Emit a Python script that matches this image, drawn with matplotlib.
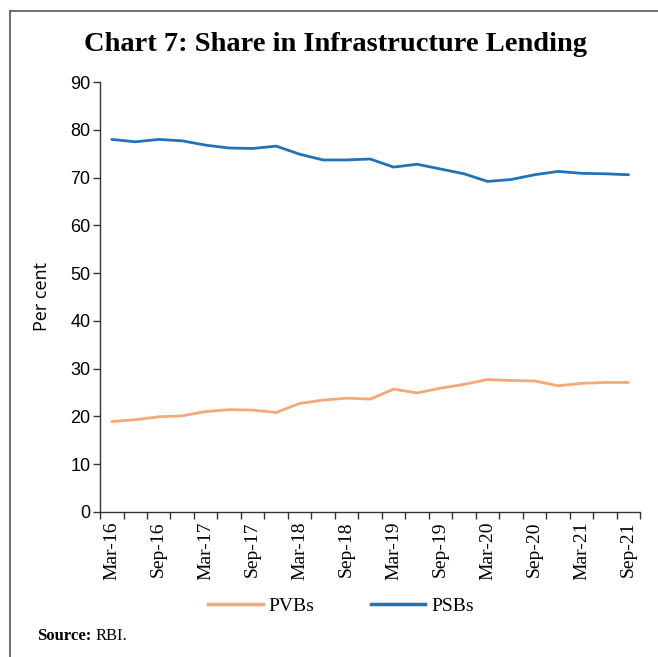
import numpy as np
import matplotlib
matplotlib.use('Agg')
import matplotlib.pyplot as plt
from matplotlib.lines import Line2D

# quarterly observations, Mar-16 .. Sep-21
quarters = ['Mar-16', 'Jun-16', 'Sep-16', 'Dec-16', 'Mar-17', 'Jun-17', 'Sep-17', 'Dec-17',
            'Mar-18', 'Jun-18', 'Sep-18', 'Dec-18', 'Mar-19', 'Jun-19', 'Sep-19', 'Dec-19',
            'Mar-20', 'Jun-20', 'Sep-20', 'Dec-20', 'Mar-21', 'Jun-21', 'Sep-21']
pvbs = [18.9, 19.3, 19.9, 20.1, 21.0, 21.4, 21.3, 20.8, 22.7, 23.4, 23.8, 23.6,
        25.7, 24.9, 25.9, 26.7, 27.7, 27.5, 27.4, 26.4, 26.9, 27.1, 27.1]
psbs = [78.0, 77.5, 78.0, 77.7, 76.8, 76.2, 76.1, 76.6, 74.9, 73.7, 73.7, 73.9,
        72.2, 72.8, 71.8, 70.8, 69.2, 69.6, 70.6, 71.3, 70.9, 70.8, 70.6]
yticks = list(range(0, 91, 10))

C_PVB = '#F5A878'
C_PSB = '#2272B8'

fig = plt.figure(figsize=(6.58, 6.57), dpi=100)
ax = fig.add_axes([0.152, 0.221, 0.821, 0.654])

x = np.arange(len(quarters))
ax.plot(x, pvbs, color=C_PVB, lw=2.0, solid_capstyle='round')
ax.plot(x, psbs, color=C_PSB, lw=2.0, solid_capstyle='round')

ax.set_xlim(-0.5, len(quarters) - 0.5)
ax.set_ylim(0, 90)
ax.set_yticks(yticks)
ax.set_yticklabels([str(v) for v in yticks], family='Liberation Sans', fontsize=13)
ax.tick_params(axis='y', length=5, width=1, pad=2, color='#333333')

# category axis: tick marks between categories, labels every second quarter
ax.set_xticks(x[::2])
ax.set_xticklabels(quarters[::2], rotation=90, family='Liberation Serif', fontsize=14)
ax.tick_params(axis='x', which='major', length=0, pad=7)
ax.set_xticks(np.arange(-0.5, len(quarters)), minor=True)
ax.tick_params(axis='x', which='minor', length=5, width=1, color='#333333')

for s in ['top', 'right']:
    ax.spines[s].set_visible(False)
for s in ['left', 'bottom']:
    ax.spines[s].set_color('#333333')
    ax.spines[s].set_linewidth(1.0)

ax.set_ylabel('Per cent', family='Open Sans', fontsize=13, labelpad=14)

fig.text(0.51, 0.933, 'Chart 7: Share in Infrastructure Lending', ha='center', va='center',
         family='Liberation Serif', fontweight='bold', fontsize=20.5)

handles = [Line2D([], [], color=C_PVB, lw=2.5), Line2D([], [], color=C_PSB, lw=2.5)]
fig.legend(handles, ['PVBs', 'PSBs'], loc='center', bbox_to_anchor=(0.518, 0.078), ncol=2,
           frameon=False, handlelength=2.8, columnspacing=2.9, handletextpad=0.3,
           prop={'family': 'Liberation Serif', 'size': 14})

src = fig.text(0.056, 0.032, 'Source:', family='Liberation Serif', fontweight='bold',
               fontsize=12, va='center')
fig.canvas.draw()
bb = src.get_window_extent().transformed(fig.transFigure.inverted())
fig.text(bb.x1 + 0.006, 0.032, 'RBI.', family='Liberation Serif', fontsize=12, va='center')

# page frame (top and left rules)
fig.add_artist(Line2D([0.015, 1.0], [0.983, 0.983], color='#555555', lw=1.2))
fig.add_artist(Line2D([0.015, 0.015], [0.0, 0.983], color='#555555', lw=1.2))

fig.savefig('out.png', dpi=100)
